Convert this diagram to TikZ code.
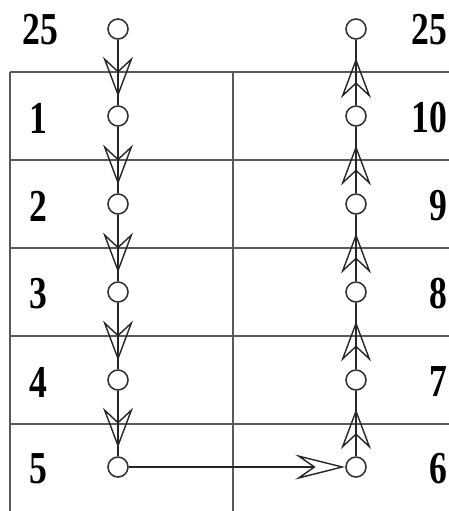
\documentclass[tikz,border=0pt]{standalone}
\usepackage{fontspec}
\usepackage{tikz}
\usetikzlibrary{arrows.meta,decorations.markings}

\newfontfamily\numfont{Liberation Serif}
\newcommand{\numlabel}[1]{\scalebox{0.78}[1]{#1}}

\begin{document}
\begin{tikzpicture}[
  x=0.02cm, y=-0.02cm,
  every node/.style={font=\numfont\fontsize{26}{28}\selectfont\bfseries},
  gridline/.style={draw=black!65, line width=1.1pt},
  dot/.style={draw=black!80, fill=white, circle, minimum size=0.4cm, inner sep=0pt, line width=0.9pt},
  link/.style={draw=black!85, line width=0.9pt},
  openhead/.tip={Stealth[open, length=0.8cm, width=0.6cm, inset=0.28cm, line width=0.8pt]},
  longhead/.tip={Stealth[open, length=1.0cm, width=0.5cm, inset=0.36cm, line width=0.8pt]},
  downlink/.style={link, postaction={decorate}, decoration={markings,
    mark=at position 0.87 with {\arrow{openhead}}}},
  uplink/.style={link, postaction={decorate}, decoration={markings,
    mark=at position 0.72 with {\arrow{openhead}}}},
]
\useasboundingbox (0,0) rectangle (449,511);

% ============ table ============
\draw[gridline] (10,72) -- (10,511);
\draw[gridline] (233,72) -- (233,511);
\foreach \y in {72,160,248,336,424}{
  \draw[gridline] (10,\y) -- (449,\y);
}

% ============ stops ============
\node[dot] (l0) at (118,29) {};
\node[dot] (r0) at (356,29) {};
\foreach \i/\y in {1/116,2/204,3/292,4/380,5/467}{
  \node[dot] (l\i) at (118,\y) {};
  \node[dot] (r\i) at (356,\y) {};
}

% labels
\node (t0) at (40,30) {\numlabel{25}};
\node[anchor=east, inner xsep=1pt] (s0) at (449,30) {\numlabel{25}};
\foreach \i/\y/\n in {1/118/10,2/206/9,3/294/8,4/382/7,5/469/6}{
  \node (t\i) at (38,\y) {\numlabel{\i}};
  \node[anchor=east, inner xsep=1pt] (s\i) at (449,\y) {\numlabel{\n}};
}

% ============ route ============
\foreach \a/\b in {0/1,1/2,2/3,3/4,4/5}{
  \draw[downlink] (l\a) -- (l\b);
  \draw[uplink] (r\b) -- (r\a);
}
\draw[link, -longhead] (l5) -- (r5);

\end{tikzpicture}
\end{document}
